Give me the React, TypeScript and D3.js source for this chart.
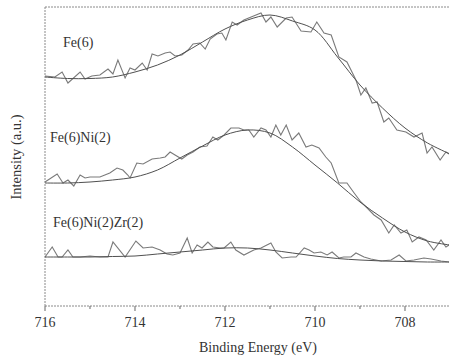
import React from "react";
import * as d3 from "d3";

// Binding energies (eV) and intensities (a.u.)
const fe6Energy = [716.00,715.78,715.62,715.49,715.22,715.11,714.96,714.78,714.60,714.49,714.38,714.22,714.11,714.00,713.84,713.73,713.62,713.49,713.33,713.22,713.11,712.96,712.82,712.71,712.56,712.44,712.33,712.18,712.07,711.98,711.84,711.73,711.58,711.42,711.20,711.09,710.98,710.84,710.64,710.51,710.31,710.09,709.96,709.80,709.64,709.47,709.29,709.09,708.98,708.87,708.73,708.62,708.47,708.36,708.18,707.98,707.80,707.62,707.51,707.40,707.22,707.09,707.02];
const fe6Counts = [230,229,234,223,234,227,230,231,237,232,246,228,238,236,243,236,252,250,253,254,250,251,256,262,263,257,267,272,273,266,284,281,286,289,293,284,289,279,288,289,275,274,284,273,271,249,244,226,211,218,203,204,184,188,176,174,169,173,153,159,146,154,152];

const feNiEnergy = [716.00,715.73,715.60,715.49,715.36,715.22,715.11,715.00,714.78,714.56,714.40,714.27,714.16,714.11,713.96,713.82,713.62,713.44,713.33,713.22,713.11,712.96,712.84,712.71,712.56,712.40,712.27,712.16,712.02,711.87,711.69,711.58,711.47,711.36,711.20,711.09,710.98,710.87,710.76,710.64,710.51,710.36,710.20,710.07,709.91,709.76,709.64,709.47,709.29,709.13,708.98,708.84,708.69,708.53,708.36,708.24,708.09,707.96,707.84,707.69,707.53,707.36,707.20,707.09,707.02];
const feNiCounts = [124,132,123,126,120,131,128,129,129,133,138,136,131,128,143,142,147,148,149,154,151,147,151,154,159,160,169,166,171,178,178,176,176,169,178,176,169,181,171,181,166,173,159,161,158,149,143,123,123,113,104,98,91,86,73,81,73,76,64,69,66,56,66,59,61];

const feNiZrEnergy = [716.00,715.84,715.71,715.62,715.49,715.38,715.22,715.00,714.78,714.60,714.49,714.22,713.98,713.82,713.62,713.44,713.29,713.16,713.00,712.84,712.73,712.62,712.51,712.38,712.27,712.11,712.02,711.87,711.76,711.58,711.36,711.20,710.98,710.87,710.73,710.53,710.42,710.24,710.13,710.02,709.87,709.73,709.62,709.47,709.36,709.20,709.09,708.91,708.76,708.53,708.31,708.13,707.98,707.80,707.58,707.42,707.20,707.02];
const feNiZrCounts = [49,59,49,49,56,49,49,50,49,49,64,49,65,58,59,56,52,51,53,68,53,61,58,64,59,58,58,64,56,51,56,58,63,54,48,49,49,58,56,53,54,51,54,48,49,49,53,49,47,45,46,51,45,46,48,47,45,44];

// Fitted envelopes
const fitEnergy = [716,715.5,715,714.5,714,713.5,713,712.5,712,711.5,711,710.5,710,709.5,709,708.5,708,707.5,707];
const fe6Fit = [229,227.5,227.5,229,234,241,251,264,277,286,291,285,276,249,221,198,178,163,152];
const feNiFit = [123,123,124,126,129,136,148,160,171,176,173,159,141,123,104,88,74,65,61];
const feNiZrFit = [49,49,49,49.5,50,52,54,56,58,58,56,53,50,47.5,46,45,44.5,44,44];

const seriesNames = ["Fe(6)", "Fe(6)Ni(2)", "Fe(6)Ni(2)Zr(2)"];
const majorTicks = [716, 714, 712, 710, 708];
const minorTicks = [715, 713, 711, 709, 707];

const W = 449, H = 362;
const left = 45, right = 449, top = 7, bottom = 306;
const FONT = '"Liberation Serif"';

export default function App() {
  const x = d3.scaleLinear().domain([716, 707.0222]).range([left, right]);
  const y = d3.scaleLinear().domain([0, 299]).range([bottom, top]);

  const raw = d3.line<[number, number]>().x(d => x(d[0])).y(d => y(d[1]));
  const smooth = d3.line<[number, number]>().x(d => x(d[0])).y(d => y(d[1])).curve(d3.curveCatmullRom);

  const noisy = [
    d3.zip(fe6Energy, fe6Counts),
    d3.zip(feNiEnergy, feNiCounts),
    d3.zip(feNiZrEnergy, feNiZrCounts),
  ] as [number, number][][];
  const fits = [fe6Fit, feNiFit, feNiZrFit].map(f => d3.zip(fitEnergy, f)) as [number, number][][];

  const labelPos = [
    { x: 63, y: 47 },
    { x: 50, y: 142 },
    { x: 53, y: 227 },
  ];

  const axisCol = "#8a8a8a";

  return (
    <svg width={W} height={H} style={{ position: "absolute", left: 0, top: 0, background: "#fff" }}>
      {/* frame */}
      <line x1={left} x2={right} y1={top} y2={top} stroke={axisCol} strokeWidth={1} strokeDasharray="2,1" />
      <line x1={left} x2={left} y1={top} y2={bottom} stroke={axisCol} strokeWidth={1} strokeDasharray="2,1" />
      <line x1={left} x2={right} y1={bottom} y2={bottom} stroke={axisCol} strokeWidth={1} strokeDasharray="2,1" />
      {majorTicks.map(t => (
        <g key={"M" + t}>
          <line x1={x(t)} x2={x(t)} y1={bottom} y2={bottom + 5} stroke="#666" />
          <text x={x(t)} y={327} textAnchor="middle" fontSize={14} fill="#333" style={{ fontFamily: FONT }}>{t}</text>
        </g>
      ))}
      {minorTicks.map(t => (
        <line key={"m" + t} x1={x(t)} x2={x(t)} y1={bottom} y2={bottom + 3} stroke="#666" />
      ))}
      <text x={258} y={352} textAnchor="middle" fontSize={14} fill="#333" style={{ fontFamily: FONT }}>Binding Energy (eV)</text>
      <text transform={`translate(21,157) rotate(-90)`} textAnchor="middle" fontSize={14.5} fill="#333" style={{ fontFamily: FONT }}>Intensity (a.u.)</text>

      {noisy.map((d, i) => (
        <path key={"n" + i} d={raw(d) || ""} fill="none" stroke="#7a7a7a" strokeWidth={1.1} />
      ))}
      {fits.map((d, i) => (
        <path key={"f" + i} d={smooth(d) || ""} fill="none" stroke="#505050" strokeWidth={1} />
      ))}
      {seriesNames.map((s, i) => (
        <text key={s} x={labelPos[i].x} y={labelPos[i].y} fontSize={14} fill="#333" style={{ fontFamily: FONT }}>{s}</text>
      ))}
    </svg>
  );
}
